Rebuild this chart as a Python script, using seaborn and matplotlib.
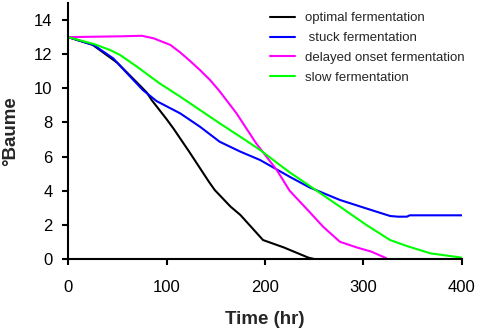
import matplotlib
matplotlib.use("Agg")
import matplotlib.pyplot as plt
import seaborn as sns
import pandas as pd

# ---- data ----
opt_x = [0, 25, 50, 75, 80, 85, 100, 107, 123, 143, 149, 165, 175, 198, 219, 244, 250]
opt_y = [13, 12.55, 11.5, 10.05, 9.75, 9.31, 8.2, 7.65, 6.29, 4.53, 4.04, 3.07, 2.58, 1.11, 0.68, 0.08, 0.0]

stuck_x = [0, 26, 46, 60, 76, 90, 114, 134, 154, 175, 195, 210, 225, 245, 276, 303, 327, 335, 344, 347, 400]
stuck_y = [13, 12.54, 11.75, 10.88, 9.9, 9.25, 8.53, 7.75, 6.87, 6.29, 5.8, 5.31, 4.82, 4.2, 3.46, 2.96, 2.52, 2.48, 2.48, 2.56, 2.56]

delay_x = [0, 55, 75, 87, 104, 114, 124, 134, 144, 153, 171, 191, 212, 225, 245, 259, 276, 293, 308, 323]
delay_y = [13, 13.05, 13.08, 12.93, 12.54, 12.1, 11.6, 11.07, 10.5, 9.9, 8.54, 6.78, 5.21, 4.0, 2.77, 1.89, 1.01, 0.68, 0.43, 0.05]

slow_x = [0, 26, 43, 53, 70, 93, 114, 134, 154, 175, 195, 215, 225, 249, 276, 303, 327, 344, 368, 400]
slow_y = [13, 12.6, 12.24, 11.95, 11.27, 10.29, 9.51, 8.73, 7.95, 7.16, 6.39, 5.51, 5.08, 4.14, 3.07, 1.99, 1.11, 0.76, 0.33, 0.08]

labels = ["optimal fermentation", " stuck fermentation",
          "delayed onset fermentation", "slow fermentation"]
colors = ["#000000", "#0000FF", "#FF00FF", "#00FF00"]

x_ticks = [0, 100, 200, 300, 400]
y_ticks = [0, 2, 4, 6, 8, 10, 12, 14]

frames = []
for lab, xs, ys in zip(labels, [opt_x, stuck_x, delay_x, slow_x],
                       [opt_y, stuck_y, delay_y, slow_y]):
    frames.append(pd.DataFrame({"time": xs, "baume": ys, "series": lab}))
df = pd.concat(frames, ignore_index=True)

sns.set_style("ticks")
plt.rcParams["font.family"] = ["Liberation Sans", "DejaVu Sans"]

fig = plt.figure(figsize=(4.8, 3.33), dpi=100)
ax = fig.add_axes([68 / 480, 1 - 259 / 333, 394 / 480, 256 / 333])

sns.lineplot(data=df, x="time", y="baume", hue="series", hue_order=labels,
             palette=colors, sort=False, estimator=None, linewidth=1.5,
             ax=ax, legend=True)

ax.set_xlim(0, 400)
ax.set_ylim(0, 15)
ax.set_xticks(x_ticks)
ax.set_yticks(y_ticks)
for s in ["top", "right"]:
    ax.spines[s].set_visible(False)
for s in ["left", "bottom"]:
    ax.spines[s].set_linewidth(1.5)
    ax.spines[s].set_color("black")
ax.tick_params(axis="both", direction="out", length=4, width=1.5,
               color="black", labelsize=12, labelcolor="black")
ax.tick_params(axis="x", pad=11)
ax.tick_params(axis="y", pad=7)

ax.set_xlabel("Time (hr)", fontsize=13.5, fontweight="bold")
ax.set_ylabel("°Baume", fontsize=13.5, fontweight="bold")
ax.xaxis.label.set_va("center")
ax.yaxis.label.set_va("center")
ax.xaxis.set_label_coords(0.5, (259 - 319) / 256)
ax.yaxis.set_label_coords((11 - 68) / 394, 0.5)

leg = ax.legend(loc="upper left", bbox_to_anchor=((270 - 68) / 394, 1 - 9 / 256),
                frameon=False, fontsize=9.5, handlelength=1.9,
                handletextpad=0.75, labelspacing=0.58, borderpad=0,
                borderaxespad=0)
for line in leg.get_lines():
    line.set_linewidth(1.5)

fig.savefig("out.png", dpi=100)
